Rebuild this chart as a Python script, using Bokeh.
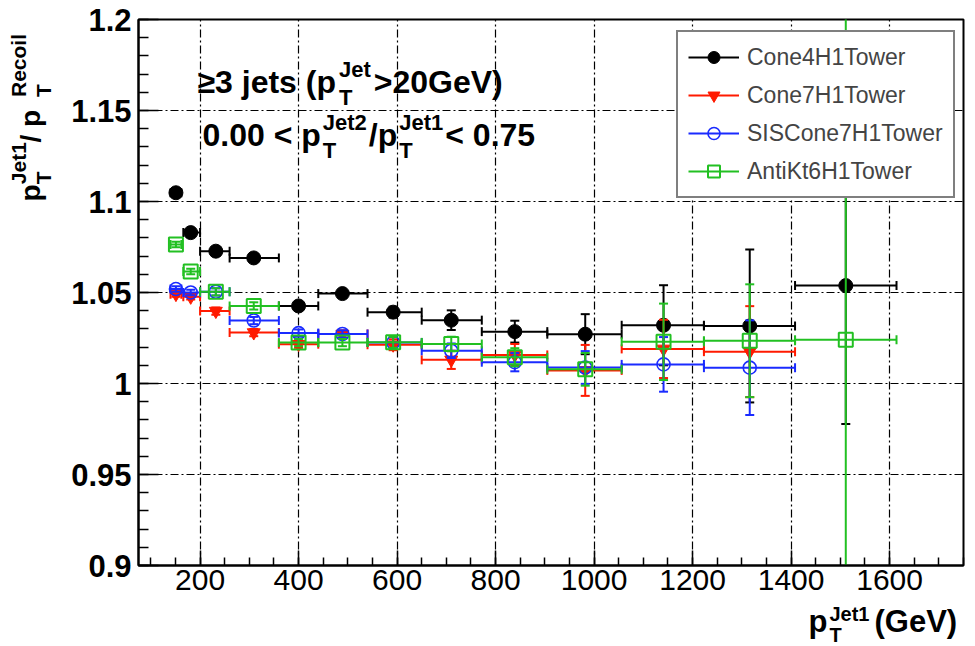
from math import pi
from bokeh.plotting import figure
from bokeh.layouts import column, row
from bokeh.models import (Range1d, Label, Legend, LegendItem, ColumnDataSource,
                          FixedTicker, CustomJSTickFormatter)
from bokeh.embed import file_html
from bokeh.resources import INLINE

# ---------------- data ----------------
pt_center = [151, 181, 232, 309, 400, 489, 592, 710, 839, 982, 1141, 1316, 1511]
pt_low    = [140, 166, 200, 260, 360, 440, 540, 650, 772, 905, 1056, 1223, 1408]
pt_high   = [162, 200, 260, 360, 440, 540, 650, 772, 905, 1056, 1223, 1408, 1614]

cone4     = [1.1048, 1.0829, 1.0727, 1.0690, 1.0426, 1.0494, 1.0392, 1.0348, 1.0285, 1.0271, 1.0320, 1.0316, 1.0538]
cone4_err = [0.0015, 0.0015, 0.0015, 0.0020, 0.0020, 0.0020, 0.0030, 0.0054, 0.0060, 0.0110, 0.0220, 0.0420, 0.0760]

cone7     = [1.0491, 1.0476, 1.0398, 1.0280, 1.0216, 1.0272, 1.0213, 1.0130, 1.0157, 1.0072, 1.0190, 1.0175]
cone7_err = [0.0015, 0.0015, 0.0020, 0.0020, 0.0020, 0.0020, 0.0030, 0.0050, 0.0060, 0.0140, 0.0160, 0.0250]

siscone7     = [1.0519, 1.0500, 1.0504, 1.0346, 1.0277, 1.0272, 1.0225, 1.0180, 1.0117, 1.0088, 1.0105, 1.0087]
siscone7_err = [0.0015, 0.0015, 0.0020, 0.0020, 0.0020, 0.0020, 0.0030, 0.0040, 0.0050, 0.0090, 0.0150, 0.0260]

antikt6     = [1.0764, 1.0615, 1.0504, 1.0426, 1.0225, 1.0225, 1.0226, 1.0217, 1.0144, 1.0078, 1.0229, 1.0235, 1.0240]
antikt6_err = [0.0015, 0.0015, 0.0020, 0.0020, 0.0020, 0.0020, 0.0030, 0.0040, 0.0050, 0.0090, 0.0210, 0.0310, 0.3000]

series_names = ["Cone4H1Tower", "Cone7H1Tower", "SISCone7H1Tower", "AntiKt6H1Tower"]

x_ticks = [200, 400, 600, 800, 1000, 1200, 1400, 1600]
y_ticks = [0.9, 0.95, 1.0, 1.05, 1.1, 1.15, 1.2]

# ---------------- layout geometry (page pixels) ----------------
X0, X1 = 75, 1750
Y0, Y1 = 0.9, 1.2
W, H = 975, 646
FL, FR, FT, FB = 138, 963, 19, 565
YT_W = 62            # width of the left strip holding the y title
MAIN_H = 603         # height of the main figure (frame + tick labels)
FONT = "Liberation Sans"
BASE_K = 0.3         # empirical shift between Label anchor and glyph baseline (em)

p = figure(width=W - YT_W, height=MAIN_H, x_range=Range1d(X0, X1), y_range=Range1d(Y0, Y1),
           output_backend="svg", toolbar_location=None,
           min_border_left=FL - YT_W, min_border_right=W - FR,
           min_border_top=FT, min_border_bottom=MAIN_H - FB)
p.title = None
p.background_fill_color = "white"
p.border_fill_color = "white"
p.outline_line_color = "black"
p.outline_line_width = 2

p.xaxis.ticker = FixedTicker(ticks=x_ticks, minor_ticks=list(range(50, 1751, 50)))
p.yaxis.ticker = FixedTicker(ticks=y_ticks, minor_ticks=[round(0.9 + 0.01 * i, 2) for i in range(31)])
p.yaxis.formatter = CustomJSTickFormatter(code="return String(+tick.toFixed(2))")
p.xgrid.ticker = FixedTicker(ticks=x_ticks)
p.ygrid.ticker = FixedTicker(ticks=y_ticks)

for ax in (p.xaxis, p.yaxis):
    ax.axis_line_color = "black"
    ax.axis_line_width = 2
    ax.major_tick_out = 0
    ax.minor_tick_out = 0
    ax.major_tick_line_color = "black"
    ax.minor_tick_line_color = "black"
    ax.major_tick_line_width = 1.5
    ax.minor_tick_line_width = 1.5
    ax.major_label_text_font = FONT
    ax.major_label_text_color = "black"
p.xaxis.major_label_text_font_size = "30px"
p.yaxis.major_label_text_font_size = "31px"
p.xaxis.major_tick_in = 15
p.xaxis.minor_tick_in = 8
p.yaxis.major_tick_in = 20
p.yaxis.minor_tick_in = 10
p.xaxis.major_label_standoff = 4
p.yaxis.major_label_standoff = 7
p.yaxis.major_label_text_font_style = "bold"

for g in (p.xgrid, p.ygrid):
    g.grid_line_color = "black"
    g.grid_line_dash = "8 3 2 3"
    g.grid_line_width = 1.2


def add_series(vals, errs, color, marker, size, fill, lw):
    n = len(vals)
    src = ColumnDataSource(dict(
        x=pt_center[:n], y=vals, xl=pt_low[:n], xh=pt_high[:n],
        yl=[v - e for v, e in zip(vals, errs)], yh=[v + e for v, e in zip(vals, errs)]))
    hseg = p.segment(x0="xl", y0="y", x1="xh", y1="y", source=src, line_color=color, line_width=2)
    p.segment(x0="x", y0="yl", x1="x", y1="yh", source=src, line_color=color, line_width=2)
    for xc in ("xl", "xh"):
        p.scatter(xc, "y", source=src, marker="dash", angle=pi / 2, size=9,
                  line_color=color, line_width=2)
    for yc in ("yl", "yh"):
        p.scatter("x", yc, source=src, marker="dash", size=9, line_color=color, line_width=2)
    m = p.scatter("x", "y", source=src, marker=marker, size=size, fill_color=fill,
                  line_color=color, line_width=lw)
    return [hseg, m]


r_black = add_series(cone4, cone4_err, "black", "circle", 14, "black", 1)
r_red = add_series(cone7, cone7_err, "#ff1a00", "inverted_triangle", 13, "#ff1a00", 1)
r_blue = add_series(siscone7, siscone7_err, "#1a2bff", "circle", 13, None, 1.6)
r_green = add_series(antikt6, antikt6_err, "#22c022", "square", 14, None, 2)

legend = Legend(items=[LegendItem(label=n, renderers=r) for n, r in
                       zip(series_names, [r_black, r_red, r_blue, r_green])],
                location=(676 - FL, FB - 198), orientation="vertical",
                border_line_color="black", border_line_width=2,
                background_fill_color="white", background_fill_alpha=1.0,
                label_text_font=FONT, label_text_font_size="23px",
                glyph_width=51, glyph_height=30, label_height=30,
                spacing=8, padding=10, label_standoff=8, margin=0)
p.add_layout(legend)


# ---------------- text-only strips for the axis titles ----------------
def text_fig(w, h):
    f = figure(width=w, height=h, x_range=Range1d(0, w), y_range=Range1d(0, h),
               output_backend="svg", toolbar_location=None, x_axis_type=None, y_axis_type=None,
               min_border=0, min_border_left=0, min_border_right=0, min_border_top=0,
               min_border_bottom=0)
    f.title = None
    f.outline_line_color = None
    f.background_fill_color = "white"
    f.border_fill_color = "white"
    return f


ytf = text_fig(YT_W, MAIN_H)
xtf = text_fig(W, H - MAIN_H)

# ---------------- rich text helpers ----------------
REG = {' ': 278, '(': 333, ')': 333, '/': 278, '.': 278, '<': 584, '>': 584, '≥': 549,
       'G': 778, 'J': 500, 'R': 722, 'T': 611, 'V': 667, 'c': 500, 'e': 556, 'i': 222,
       'j': 222, 'l': 222, 'o': 556, 'p': 556, 's': 500, 't': 278}
BOLD = {' ': 278, '(': 333, ')': 333, '/': 278, '.': 278, '<': 584, '>': 584, '≥': 549,
        'G': 778, 'J': 556, 'R': 722, 'T': 611, 'V': 667, 'c': 556, 'e': 556, 'i': 278,
        'j': 278, 'l': 278, 'o': 611, 'p': 611, 's': 556, 't': 333}


def twidth(t, size, bold=True):
    tab = BOLD if bold else REG
    return sum(tab.get(c, 556) for c in t) * size / 1000.0


def main_xy(sx, sy):
    # page pixel -> data coordinates of the main plot
    return (X0 + (sx - FL) * (X1 - X0) / (FR - FL),
            Y1 - (sy - FT) * (Y1 - Y0) / (FB - FT))


def ytf_xy(sx, sy):
    return sx, MAIN_H - sy


def xtf_xy(sx, sy):
    return sx, H - sy


def put(fig, conv, text, sx, sy, size, vertical=False, bold=True):
    # sx, sy: wanted glyph baseline start (page pixels)
    if vertical:
        sx -= BASE_K * size
    else:
        sy -= BASE_K * size
    x, y = conv(sx, sy)
    fig.add_layout(Label(x=x, y=y, text=text, angle=pi / 2 if vertical else 0.0,
                         text_font=FONT, text_font_size=f"{size}px",
                         text_font_style="bold" if bold else "normal",
                         text_color="black", text_baseline="alphabetic", text_align="left"))


def rich(fig, conv, pieces, sx, sy, size, small, sub_drop, sup_rise, gap=2, gap_after=None,
         vertical=False, bold=True):
    """pieces: str (main text) or (sub, sup) tuple stacked after it."""
    if gap_after is None:
        gap_after = gap
    pos = 0.0
    for pc in pieces:
        if isinstance(pc, str):
            items = [(pc, size, 0.0)]
            adv = twidth(pc, size, bold)
        else:
            sub, sup = pc
            items = [(sub, small, -sub_drop), (sup, small, sup_rise)]
            pos += gap
            adv = max(twidth(sub, small, bold), twidth(sup, small, bold)) + gap_after
        for t, s, rise in items:
            if vertical:
                put(fig, conv, t, sx - rise, sy - pos, s, vertical=True, bold=bold)
            else:
                put(fig, conv, t, sx + pos, sy - rise, s, bold=bold)
        pos += adv


rich(p, main_xy, ["≥3 jets (p", ("T", "Jet"), ">20GeV)"], 197, 91, 32, 22, 13, 15, gap=3)
rich(p, main_xy, ["0.00 < p", ("T", "Jet2"), "/p", ("T", "Jet1"), "  < 0.75"], 202, 144, 32, 22,
     13, 15, gap=2)
rich(xtf, xtf_xy, ["p", ("T", "Jet1"), " (GeV)"], 808, 630, 31, 20, 10, 11, gap=2, gap_after=5)
rich(ytf, ytf_xy, ["p", ("T", "Jet1"), "  / p", ("T", "Recoil")], 38, 201, 28, 21, 11, 14,
     gap=2, gap_after=4, vertical=True)

layout = column(row(ytf, p), xtf)
open("out.html", "w").write(file_html(layout, INLINE))
